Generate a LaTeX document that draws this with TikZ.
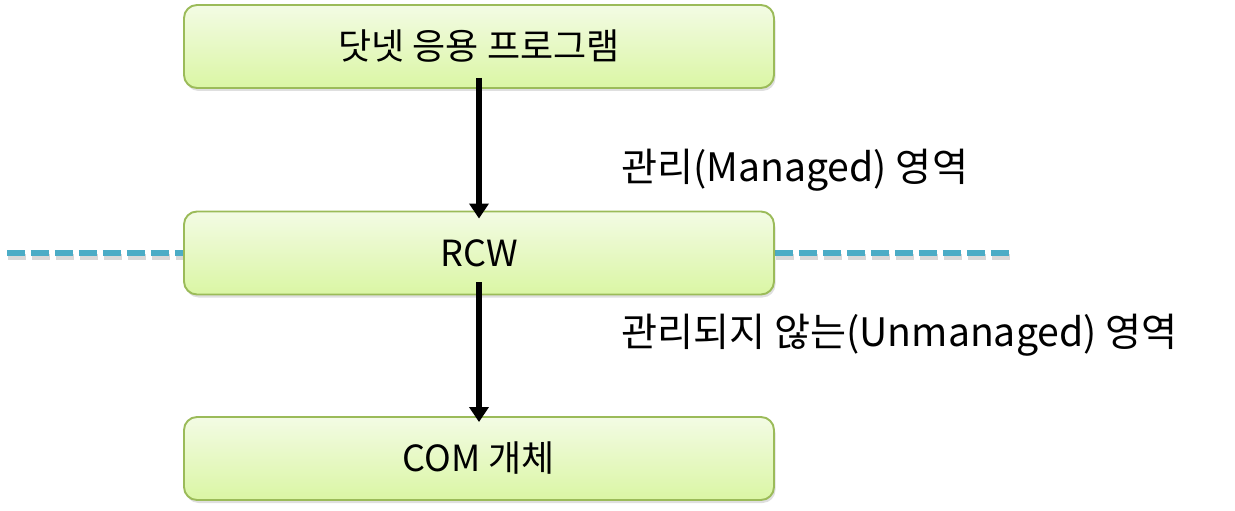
\documentclass[tikz,border=0pt]{standalone}
\usepackage{fontspec}
\setmainfont{Noto Sans CJK KR}
\usetikzlibrary{arrows.meta,shadows}
\definecolor{boxtop}{HTML}{F3FBE4}
\definecolor{boxbottom}{HTML}{DAF6A4}
\definecolor{boxline}{HTML}{9BBB59}
\definecolor{lineblue}{HTML}{4BACC6}

\begin{document}
\begin{tikzpicture}[
  layer/.style={draw=boxline,line width=1.1pt,rounded corners=0.26cm,
    top color=boxtop,bottom color=boxbottom,minimum width=11.8cm,
    minimum height=1.66cm,font=\fontsize{20.5}{24}\selectfont,
    drop shadow={shadow xshift=0.03cm,shadow yshift=-0.06cm,opacity=0.25}},
  flow/.style={-{Triangle[length=0.3cm,width=0.38cm]},line width=0.12cm},
  zone/.style={anchor=west,font=\fontsize{22.3}{26}\selectfont}
]
  \useasboundingbox (0,0) rectangle (24.7,-10.22);

  % boundary between the two worlds
  \coordinate (lineL) at (0.14,-5.06);
  \coordinate (lineR) at (20.2,-5.06);
  \draw[black!30,opacity=0.5,line width=0.12cm,dash pattern=on 0.36cm off 0.12cm]
    ([shift={(0.02,-0.07)}]lineL) -- ([shift={(0.02,-0.07)}]lineR);
  \draw[lineblue,line width=0.12cm,dash pattern=on 0.36cm off 0.12cm] (lineL) -- (lineR);

  \node[layer] (app) at (9.58,-0.93) {닷넷 응용 프로그램};
  \node[layer] (rcw) at (9.58,-5.06) {RCW};
  \node[layer] (com) at (9.58,-9.17) {COM 개체};

  \node[zone] (managed) at (12.3,-3.4) {관리(Managed) 영역};
  \node[zone] (unmanaged) at (12.3,-6.7) {관리되지 않는(Unmanaged) 영역};

  \draw[flow] ([yshift=0.22cm]app.south) -- ([yshift=-0.16cm]rcw.north);
  \draw[flow] ([yshift=0.26cm]rcw.south) -- ([yshift=-0.12cm]com.north);
\end{tikzpicture}
\end{document}
